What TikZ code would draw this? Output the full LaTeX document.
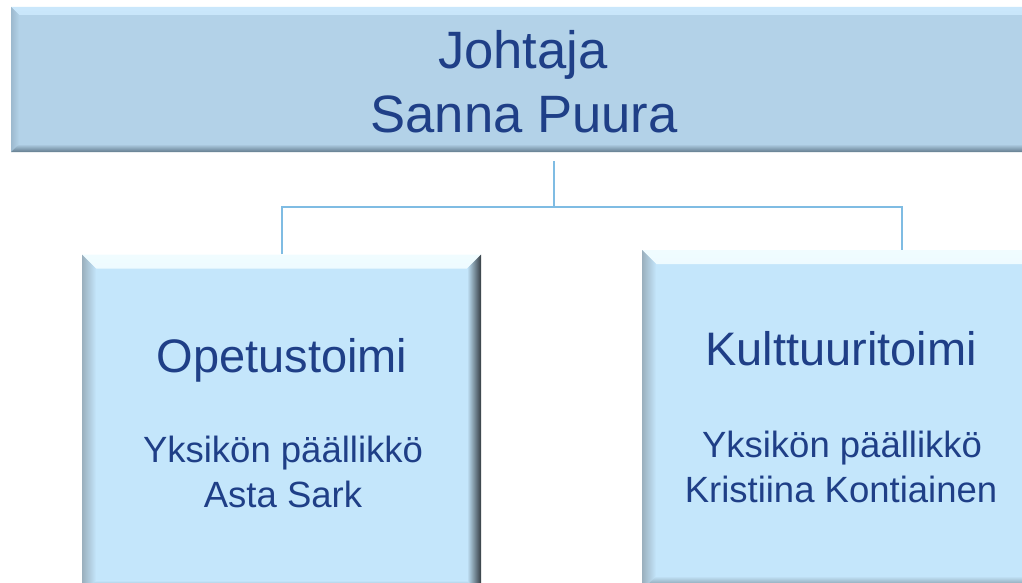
\documentclass[tikz,border=0pt]{standalone}
\usepackage{fontspec}
\setmainfont{Liberation Sans}
\usetikzlibrary{calc}
\definecolor{txt}{HTML}{1F3F87}
\definecolor{topmain}{HTML}{B3D2E8}
\definecolor{toplight}{HTML}{CAE7FB}
\definecolor{topleft}{HTML}{9CB9CE}
\definecolor{topdark}{HTML}{637C8E}
\definecolor{boxmain}{HTML}{C4E6FB}
\definecolor{boxlight}{HTML}{F0FCFF}
\definecolor{boxleft}{HTML}{9AAFBD}
\definecolor{boxdark}{HTML}{353D43}
\definecolor{boxbot}{HTML}{6A7A84}
\definecolor{conncol}{HTML}{7FBCE3}
% #1 bevel width, #2 main, #3 top, #4 left, #5 right, #6 bottom
\newcommand\mybevel[6]{%
  \shade[top color=#3, bottom color=#2]
    (path picture bounding box.north west) -- (path picture bounding box.north east)
    -- ([shift={(-#1,-#1)}]path picture bounding box.north east)
    -- ([shift={(#1,-#1)}]path picture bounding box.north west) -- cycle;
  \shade[left color=#4, right color=#2]
    (path picture bounding box.north west) -- ([shift={(#1,-#1)}]path picture bounding box.north west)
    -- ([shift={(#1,#1)}]path picture bounding box.south west)
    -- (path picture bounding box.south west) -- cycle;
  \shade[left color=#2, right color=#5]
    (path picture bounding box.north east) -- ([shift={(-#1,-#1)}]path picture bounding box.north east)
    -- ([shift={(-#1,#1)}]path picture bounding box.south east)
    -- (path picture bounding box.south east) -- cycle;
  \shade[top color=#2, bottom color=#6]
    (path picture bounding box.south west) -- ([shift={(#1,#1)}]path picture bounding box.south west)
    -- ([shift={(-#1,#1)}]path picture bounding box.south east)
    -- (path picture bounding box.south east) -- cycle;
}
\tikzset{
  topbox/.style={rectangle, inner sep=0pt, fill=topmain,
    path picture={\mybevel{8pt}{topmain}{toplight}{topleft}{topdark}{topdark}}},
  unitbox/.style={rectangle, inner sep=0pt, fill=boxmain,
    path picture={\mybevel{14pt}{boxmain}{boxlight}{boxleft}{boxdark}{boxbot}}},
  bigtxt/.style={anchor=base, inner sep=0pt, text=txt, font=\fontsize{52.6}{63}\selectfont},
  titletxt/.style={anchor=base, inner sep=0pt, text=txt, font=\fontsize{47}{56}\selectfont},
  subtxt/.style={anchor=base, inner sep=0pt, text=txt, font=\fontsize{36.5}{45}\selectfont},
  conn/.style={draw=conncol, line width=2pt}
}
\begin{document}
\begin{tikzpicture}[x=1pt,y=-1pt]
\useasboundingbox (0,0) rectangle (1022,583);
% boxes
\node[topbox, minimum width=1026pt, minimum height=145pt] (top) at (524,79.5) {};
\node[unitbox, minimum width=399pt, minimum height=340pt] (b1) at (281.5,424.5) {};
\node[unitbox, minimum width=400pt, minimum height=340pt] (b2) at (842,420) {};
% texts
\node[bigtxt] (t1) at (523,69) {Johtaja};
\node[bigtxt] (t2) at (524,132) {Sanna Puura};
\node[titletxt] (l1) at (282,372) {Opetustoimi};
\node[subtxt] (l2) at (283,462) {Yksikön päällikkö};
\node[subtxt] (l3) at (283,507) {Asta Sark};
\node[titletxt] (r1) at (841,365) {Kulttuuritoimi};
\node[subtxt] (r2) at (842,457) {Yksikön päällikkö};
\node[subtxt] (r3) at (841,502) {Kristiina Kontiainen};
% connectors
\coordinate (jx) at (554,206.5);
\coordinate (rx) at (902,206.5);
\draw[conn] ([yshift=-9pt]top.south -| jx) -- (jx);
\draw[conn] (b1.north) |- (rx) -- (rx |- b2.north);
\end{tikzpicture}
\end{document}
